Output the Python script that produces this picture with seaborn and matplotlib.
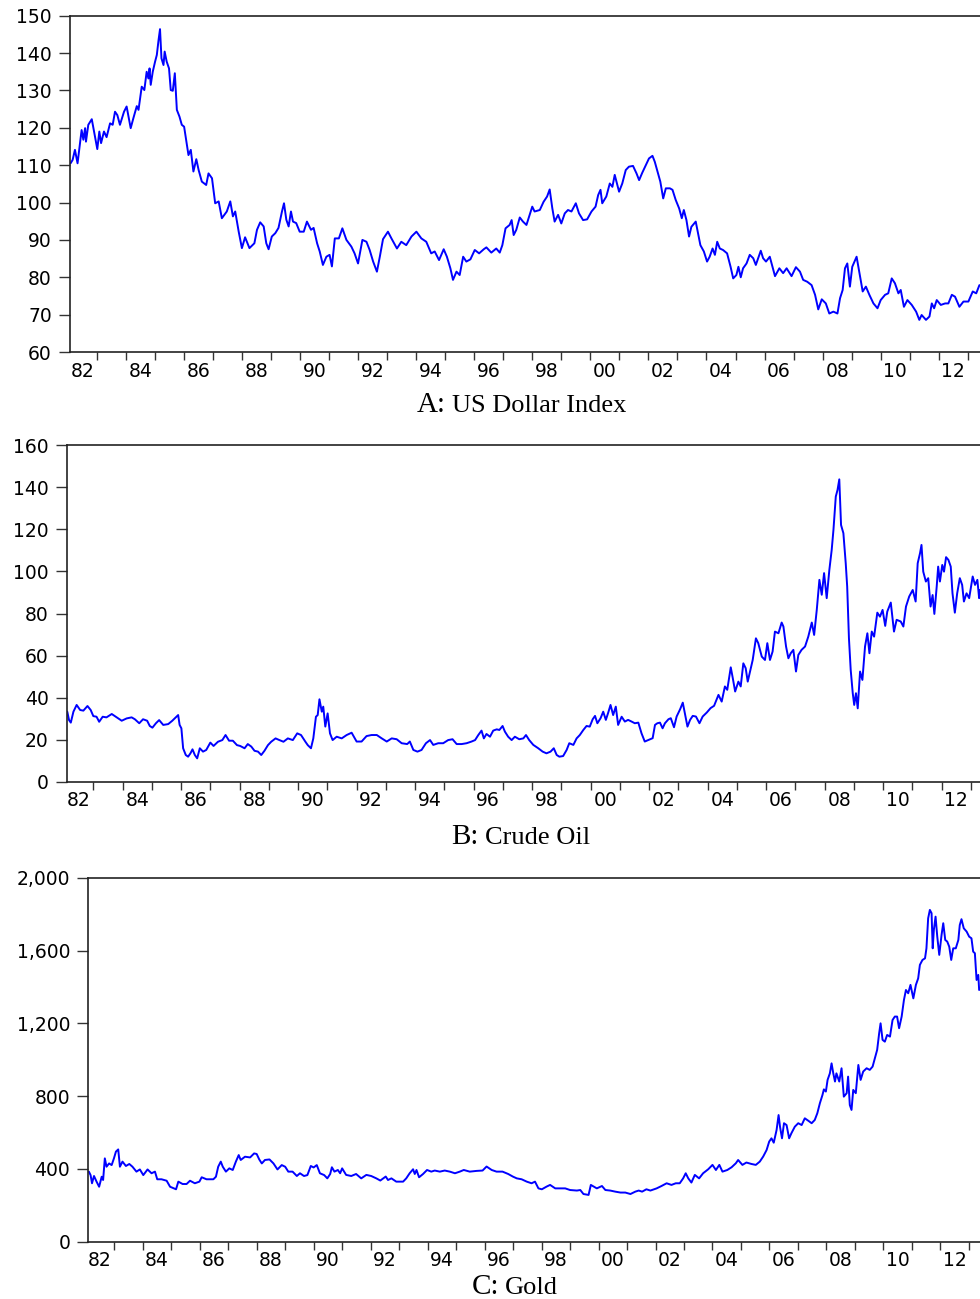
import numpy as np
import pandas as pd
import matplotlib
matplotlib.use("Agg")
import matplotlib.pyplot as plt
import seaborn as sns
from matplotlib.ticker import NullFormatter, StrMethodFormatter

# --- values (decimal year, level) ---
usd_year = [1982.10, 1982.17, 1982.25, 1982.34, 1982.48, 1982.54, 1982.60, 1982.63, 1982.71, 1982.83,
            1982.94, 1983.02, 1983.09, 1983.15, 1983.25, 1983.34, 1983.46, 1983.55, 1983.63, 1983.71,
            1983.80, 1983.94, 1984.03, 1984.17, 1984.26, 1984.38, 1984.44, 1984.55, 1984.64, 1984.72,
            1984.78, 1984.82, 1984.86, 1984.93, 1985.01, 1985.07, 1985.13, 1985.18, 1985.23, 1985.30,
            1985.34, 1985.41, 1985.49, 1985.55, 1985.62, 1985.69, 1985.76, 1985.85, 1985.93, 1986.01,
            1986.08, 1986.16, 1986.24, 1986.33, 1986.43, 1986.51, 1986.62, 1986.77, 1986.85, 1986.97,
            1987.08, 1987.20, 1987.31, 1987.48, 1987.60, 1987.69, 1987.77, 1987.89, 1988.00, 1988.11,
            1988.26, 1988.43, 1988.52, 1988.63, 1988.75, 1988.84, 1988.92, 1989.03, 1989.15, 1989.26,
            1989.38, 1989.45, 1989.53, 1989.61, 1989.69, 1989.76, 1989.87, 1989.99, 1990.13, 1990.24,
            1990.38, 1990.47, 1990.59, 1990.68, 1990.79, 1990.91, 1991.02, 1991.10, 1991.20, 1991.34,
            1991.46, 1991.60, 1991.77, 1991.88, 1992.00, 1992.15, 1992.29, 1992.40, 1992.52, 1992.65,
            1992.75, 1992.86, 1993.03, 1993.15, 1993.34, 1993.49, 1993.66, 1993.84, 1994.01, 1994.18,
            1994.35, 1994.52, 1994.64, 1994.79, 1994.95, 1995.06, 1995.18, 1995.27, 1995.39, 1995.50,
            1995.62, 1995.73, 1995.87, 1996.02, 1996.17, 1996.33, 1996.42, 1996.59, 1996.76, 1996.88,
            1996.97, 1997.08, 1997.22, 1997.29, 1997.36, 1997.45, 1997.57, 1997.68, 1997.80, 1997.91,
            1998.00, 1998.08, 1998.26, 1998.39, 1998.51, 1998.60, 1998.69, 1998.77, 1998.89, 1999.00,
            1999.12, 1999.23, 1999.35, 1999.50, 1999.61, 1999.75, 1999.89, 2000.04, 2000.18, 2000.27,
            2000.35, 2000.41, 2000.55, 2000.67, 2000.76, 2000.84, 2000.90, 2000.99, 2001.10, 2001.22,
            2001.33, 2001.47, 2001.59, 2001.68, 2001.79, 2001.91, 2002.02, 2002.14, 2002.22, 2002.33,
            2002.41, 2002.51, 2002.60, 2002.74, 2002.83, 2002.94, 2003.06, 2003.15, 2003.22, 2003.31,
            2003.40, 2003.48, 2003.63, 2003.71, 2003.79, 2003.91, 2004.02, 2004.11, 2004.21, 2004.29,
            2004.37, 2004.46, 2004.57, 2004.71, 2004.83, 2004.92, 2005.03, 2005.10, 2005.18, 2005.26,
            2005.38, 2005.49, 2005.61, 2005.70, 2005.78, 2005.87, 2005.95, 2006.05, 2006.18, 2006.36,
            2006.51, 2006.64, 2006.76, 2006.93, 2007.08, 2007.22, 2007.33, 2007.47, 2007.62, 2007.74,
            2007.85, 2007.97, 2008.11, 2008.23, 2008.37, 2008.51, 2008.60, 2008.69, 2008.77, 2008.85,
            2008.94, 2009.02, 2009.17, 2009.26, 2009.38, 2009.49, 2009.61, 2009.75, 2009.89, 2010.00,
            2010.15, 2010.26, 2010.38, 2010.49, 2010.61, 2010.69, 2010.80, 2010.92, 2011.07, 2011.22,
            2011.33, 2011.41, 2011.56, 2011.68, 2011.76, 2011.84, 2011.93, 2012.07, 2012.22, 2012.33,
            2012.45, 2012.56, 2012.71, 2012.85, 2013.02, 2013.17, 2013.29, 2013.40]
usd_value = [110.5, 111.4, 114.1, 110.5, 119.4, 116.8, 119.9, 116.3, 120.8, 122.3,
             117.6, 114.3, 119.0, 115.9, 119.0, 117.5, 121.2, 120.8, 124.3, 123.4,
             120.8, 124.3, 125.7, 119.9, 122.5, 125.8, 124.8, 131.0, 130.1, 135.0,
             133.2, 135.9, 131.5, 135.0, 137.7, 139.5, 143.5, 146.4, 138.6, 136.8,
             140.4, 137.7, 135.9, 130.1, 129.9, 134.6, 124.8, 123.0, 120.8, 120.3,
             116.8, 112.7, 114.1, 108.3, 111.6, 108.7, 105.6, 104.7, 107.8, 106.5,
             99.8, 100.3, 95.8, 97.6, 100.3, 96.3, 97.6, 92.2, 87.8, 90.7,
             87.8, 89.1, 92.7, 94.7, 93.6, 89.1, 87.5, 90.9, 91.8, 93.2,
             97.6, 99.8, 95.4, 93.6, 97.6, 94.9, 94.5, 92.2, 92.2, 94.9,
             92.7, 93.2, 89.1, 86.9, 83.3, 85.5, 86.0, 82.9, 90.4, 90.4,
             93.1, 90.0, 88.2, 86.4, 83.7, 90.0, 89.5, 87.3, 84.2, 81.5,
             85.5, 90.2, 92.2, 90.4, 87.7, 89.5, 88.6, 90.9, 92.2, 90.4,
             89.5, 86.4, 86.9, 84.6, 87.5, 85.5, 82.4, 79.3, 81.5, 80.6,
             85.5, 84.2, 84.8, 87.3, 86.4, 87.5, 88.0, 86.6, 87.7, 86.6,
             88.6, 93.1, 94.0, 95.3, 91.3, 92.7, 96.0, 94.9, 94.0, 96.7,
             98.9, 97.6, 98.0, 100.2, 101.6, 103.5, 98.5, 94.9, 96.7, 94.4,
             97.1, 98.0, 97.6, 99.8, 97.1, 95.3, 95.5, 97.6, 98.9, 102.0,
             103.4, 99.8, 101.6, 105.1, 104.2, 107.4, 105.6, 102.9, 105.1, 108.7,
             109.6, 109.8, 107.8, 106.0, 108.0, 110.0, 111.8, 112.5, 110.9, 107.8,
             105.6, 101.1, 103.8, 103.8, 103.4, 100.7, 98.4, 95.8, 98.0, 95.3,
             90.9, 93.5, 94.9, 91.8, 88.6, 86.9, 84.2, 85.5, 87.7, 86.0,
             89.5, 87.7, 87.3, 86.4, 82.8, 79.7, 80.6, 82.8, 80.0, 82.4,
             83.7, 86.0, 85.1, 83.3, 85.1, 87.1, 85.1, 84.2, 85.5, 80.3,
             82.4, 81.1, 82.4, 80.3, 82.7, 81.5, 79.3, 78.8, 77.9, 75.3,
             71.4, 74.1, 73.0, 70.3, 70.8, 70.3, 74.4, 76.6, 82.4, 83.7,
             77.5, 82.8, 85.5, 81.5, 76.2, 77.5, 75.3, 73.0, 71.7, 73.9,
             75.3, 75.7, 79.7, 78.4, 75.7, 76.6, 72.1, 73.9, 72.6, 70.8,
             68.6, 69.9, 68.6, 69.5, 73.0, 71.7, 73.9, 72.6, 73.0, 73.0,
             75.3, 74.8, 72.1, 73.5, 73.5, 76.2, 75.7, 77.9]

oil_year = [1982.11, 1982.17, 1982.23, 1982.32, 1982.43, 1982.55, 1982.66, 1982.80, 1982.91, 1983.00,
            1983.11, 1983.20, 1983.32, 1983.45, 1983.63, 1983.80, 1983.97, 1984.14, 1984.31, 1984.42,
            1984.57, 1984.70, 1984.84, 1984.93, 1985.02, 1985.14, 1985.25, 1985.39, 1985.56, 1985.70,
            1985.84, 1985.90, 1985.95, 1986.01, 1986.07, 1986.16, 1986.24, 1986.32, 1986.39, 1986.47,
            1986.55, 1986.64, 1986.75, 1986.86, 1987.00, 1987.11, 1987.26, 1987.41, 1987.52, 1987.64,
            1987.77, 1987.91, 1988.02, 1988.17, 1988.28, 1988.40, 1988.51, 1988.63, 1988.74, 1988.85,
            1988.97, 1989.08, 1989.23, 1989.36, 1989.50, 1989.65, 1989.82, 1989.97, 1990.10, 1990.25,
            1990.33, 1990.44, 1990.52, 1990.61, 1990.67, 1990.73, 1990.81, 1990.86, 1990.93, 1991.01,
            1991.09, 1991.18, 1991.32, 1991.49, 1991.66, 1991.83, 1992.00, 1992.17, 1992.34, 1992.51,
            1992.69, 1992.86, 1993.03, 1993.20, 1993.37, 1993.54, 1993.73, 1993.82, 1993.94, 1994.08,
            1994.22, 1994.37, 1994.51, 1994.62, 1994.79, 1994.96, 1995.13, 1995.28, 1995.42, 1995.59,
            1995.76, 1995.93, 1996.05, 1996.16, 1996.27, 1996.35, 1996.44, 1996.56, 1996.67, 1996.79,
            1996.88, 1996.99, 1997.07, 1997.18, 1997.30, 1997.41, 1997.56, 1997.70, 1997.79, 1997.90,
            1998.04, 1998.21, 1998.36, 1998.49, 1998.63, 1998.74, 1998.84, 1998.93, 1999.06, 1999.18,
            1999.27, 1999.41, 1999.52, 1999.63, 1999.75, 1999.86, 1999.97, 2000.07, 2000.15, 2000.23,
            2000.34, 2000.43, 2000.52, 2000.60, 2000.68, 2000.77, 2000.86, 2000.94, 2001.06, 2001.17,
            2001.28, 2001.40, 2001.51, 2001.63, 2001.74, 2001.85, 2001.97, 2002.12, 2002.20, 2002.28,
            2002.37, 2002.46, 2002.54, 2002.66, 2002.74, 2002.85, 2002.94, 2003.06, 2003.15, 2003.23,
            2003.31, 2003.40, 2003.49, 2003.60, 2003.72, 2003.83, 2003.97, 2004.10, 2004.22, 2004.37,
            2004.48, 2004.59, 2004.67, 2004.79, 2004.86, 2004.94, 2005.05, 2005.13, 2005.22, 2005.30,
            2005.37, 2005.45, 2005.54, 2005.65, 2005.73, 2005.85, 2005.96, 2006.04, 2006.13, 2006.22,
            2006.30, 2006.42, 2006.53, 2006.59, 2006.68, 2006.76, 2006.84, 2006.93, 2007.02, 2007.10,
            2007.21, 2007.33, 2007.44, 2007.56, 2007.64, 2007.73, 2007.82, 2007.90, 2007.98, 2008.07,
            2008.16, 2008.24, 2008.30, 2008.38, 2008.44, 2008.50, 2008.56, 2008.64, 2008.72, 2008.77,
            2008.83, 2008.89, 2008.96, 2009.01, 2009.07, 2009.13, 2009.21, 2009.29, 2009.38, 2009.46,
            2009.53, 2009.61, 2009.69, 2009.80, 2009.89, 2009.98, 2010.07, 2010.14, 2010.26, 2010.37,
            2010.46, 2010.60, 2010.69, 2010.78, 2010.89, 2011.01, 2011.11, 2011.18, 2011.26, 2011.31,
            2011.37, 2011.46, 2011.54, 2011.62, 2011.69, 2011.75, 2011.83, 2011.88, 2011.94, 2012.02,
            2012.08, 2012.15, 2012.23, 2012.31, 2012.37, 2012.45, 2012.53, 2012.62, 2012.70, 2012.76,
            2012.85, 2012.94, 2013.06, 2013.14, 2013.22, 2013.28, 2013.31]
oil_value = [33.3, 29.3, 28.1, 33.3, 36.5, 34.1, 33.8, 36.0, 34.1, 31.2,
             30.9, 28.5, 30.9, 30.6, 32.2, 30.6, 29.0, 30.1, 30.6, 29.7,
             27.8, 29.7, 29.0, 26.5, 25.7, 27.8, 29.3, 27.0, 27.4, 29.0,
             30.9, 31.7, 27.0, 25.4, 15.9, 12.7, 11.9, 13.5, 15.4, 12.7,
             11.1, 15.9, 14.3, 15.1, 18.6, 17.0, 19.0, 19.8, 22.2, 19.5,
             19.5, 17.4, 17.0, 15.9, 17.9, 16.7, 14.7, 14.3, 12.7, 14.7,
             17.4, 19.0, 20.6, 19.8, 19.0, 20.6, 19.8, 23.0, 22.2, 19.0,
             17.4, 15.9, 20.6, 30.9, 31.7, 39.2, 33.3, 35.7, 26.2, 32.5,
             23.0, 19.8, 21.4, 20.6, 22.2, 23.3, 19.1, 19.1, 21.7, 22.2,
             22.2, 20.6, 19.1, 20.6, 20.2, 18.3, 17.9, 19.1, 15.1, 14.3,
             15.1, 18.3, 19.8, 17.5, 18.3, 18.3, 19.8, 20.2, 17.9, 17.9,
             18.3, 19.1, 19.8, 22.2, 24.3, 20.6, 22.7, 21.4, 24.3, 24.9,
             24.6, 26.5, 23.8, 21.4, 19.8, 21.4, 20.2, 20.6, 22.2, 19.8,
             17.5, 15.9, 14.3, 13.5, 14.3, 15.9, 12.7, 11.9, 12.2, 15.1,
             18.3, 17.5, 20.6, 22.2, 24.6, 26.5, 26.2, 29.7, 31.3, 27.8,
             30.2, 33.3, 29.4, 32.8, 36.5, 31.7, 35.7, 27.0, 30.9, 28.6,
             29.4, 28.6, 27.8, 28.1, 23.0, 19.1, 19.8, 20.7, 27.0, 27.8,
             28.1, 25.4, 27.8, 29.7, 30.2, 25.9, 31.0, 34.5, 37.6, 31.8,
             26.2, 29.4, 31.3, 31.0, 27.8, 31.0, 32.9, 35.0, 36.1, 41.3,
             38.1, 45.3, 43.7, 54.4, 49.2, 42.9, 47.6, 45.3, 56.3, 54.0,
             47.6, 52.4, 57.9, 68.2, 65.9, 59.5, 57.9, 65.9, 57.9, 61.9,
             71.4, 70.6, 75.7, 73.8, 64.3, 58.7, 61.1, 62.7, 52.4, 60.3,
             62.7, 64.3, 69.0, 75.7, 69.8, 81.7, 96.0, 88.9, 99.2, 87.3,
             100.7, 110.2, 119.7, 135.6, 138.8, 143.8, 122.1, 118.2, 103.9, 92.8,
             68.2, 53.2, 42.1, 36.5, 42.1, 34.9, 52.4, 48.4, 64.3, 70.6,
             61.1, 71.4, 69.0, 80.4, 78.5, 81.7, 74.1, 80.9, 85.2, 71.4,
             77.0, 76.2, 73.8, 83.3, 88.1, 91.2, 85.7, 103.9, 108.7, 112.6,
             99.9, 95.2, 96.8, 83.3, 88.8, 79.8, 92.8, 102.3, 95.2, 103.1,
             99.9, 106.8, 105.5, 102.3, 89.6, 80.4, 89.6, 96.8, 93.6, 85.7,
             89.6, 87.3, 97.6, 93.6, 96.0, 87.3, 91.2]

gold_year = [1982.11, 1982.17, 1982.22, 1982.29, 1982.38, 1982.47, 1982.56, 1982.61, 1982.67, 1982.73,
             1982.82, 1982.91, 1982.99, 1983.06, 1983.14, 1983.20, 1983.29, 1983.41, 1983.53, 1983.64,
             1983.78, 1983.90, 1984.02, 1984.17, 1984.31, 1984.43, 1984.51, 1984.66, 1984.84, 1984.96,
             1985.17, 1985.25, 1985.40, 1985.54, 1985.66, 1985.83, 1985.99, 1986.07, 1986.24, 1986.48,
             1986.57, 1986.65, 1986.74, 1986.81, 1986.92, 1987.04, 1987.16, 1987.27, 1987.37, 1987.44,
             1987.59, 1987.77, 1987.91, 1988.00, 1988.09, 1988.18, 1988.29, 1988.45, 1988.59, 1988.73,
             1988.88, 1989.00, 1989.11, 1989.26, 1989.41, 1989.52, 1989.66, 1989.78, 1989.90, 1990.00,
             1990.11, 1990.22, 1990.37, 1990.48, 1990.58, 1990.64, 1990.73, 1990.85, 1990.93, 1991.00,
             1991.14, 1991.32, 1991.49, 1991.67, 1991.85, 1992.02, 1992.20, 1992.34, 1992.53, 1992.61,
             1992.73, 1992.90, 1993.14, 1993.25, 1993.37, 1993.49, 1993.55, 1993.61, 1993.70, 1993.84,
             1993.98, 1994.13, 1994.25, 1994.43, 1994.60, 1994.78, 1994.96, 1995.13, 1995.27, 1995.48,
             1995.72, 1995.93, 1996.07, 1996.25, 1996.42, 1996.63, 1996.83, 1996.99, 1997.13, 1997.30,
             1997.48, 1997.65, 1997.77, 1997.89, 1998.01, 1998.18, 1998.30, 1998.48, 1998.65, 1998.83,
             1999.00, 1999.24, 1999.36, 1999.47, 1999.65, 1999.73, 1999.83, 1999.94, 2000.12, 2000.24,
             2000.41, 2000.59, 2000.77, 2000.94, 2001.12, 2001.29, 2001.41, 2001.53, 2001.68, 2001.82,
             2002.04, 2002.21, 2002.39, 2002.56, 2002.71, 2002.85, 2002.97, 2003.06, 2003.15, 2003.26,
             2003.38, 2003.53, 2003.67, 2003.85, 2004.00, 2004.12, 2004.24, 2004.35, 2004.52, 2004.67,
             2004.82, 2004.90, 2005.05, 2005.19, 2005.37, 2005.52, 2005.66, 2005.78, 2005.90, 2005.99,
             2006.07, 2006.15, 2006.25, 2006.32, 2006.37, 2006.44, 2006.51, 2006.60, 2006.69, 2006.77,
             2006.89, 2007.01, 2007.13, 2007.24, 2007.36, 2007.48, 2007.59, 2007.68, 2007.77, 2007.86,
             2007.91, 2007.98, 2008.04, 2008.12, 2008.18, 2008.24, 2008.30, 2008.35, 2008.45, 2008.53,
             2008.61, 2008.71, 2008.76, 2008.82, 2008.88, 2008.94, 2009.03, 2009.12, 2009.20, 2009.29,
             2009.41, 2009.52, 2009.62, 2009.70, 2009.78, 2009.85, 2009.90, 2009.97, 2010.05, 2010.13,
             2010.23, 2010.32, 2010.40, 2010.48, 2010.55, 2010.64, 2010.72, 2010.79, 2010.87, 2010.95,
             2011.05, 2011.14, 2011.22, 2011.28, 2011.37, 2011.46, 2011.51, 2011.57, 2011.63, 2011.69,
             2011.73, 2011.77, 2011.83, 2011.89, 2011.96, 2012.04, 2012.10, 2012.17, 2012.24, 2012.31,
             2012.38, 2012.45, 2012.54, 2012.63, 2012.68, 2012.74, 2012.82, 2012.92, 2013.01, 2013.09,
             2013.15, 2013.21, 2013.27, 2013.33, 2013.36]
gold_value = [385, 366, 321, 361, 330, 302, 357, 339, 458, 412,
              430, 421, 458, 495, 507, 412, 440, 416, 427, 412,
              385, 397, 366, 397, 376, 385, 343, 343, 335, 302,
              288, 330, 317, 317, 335, 321, 330, 354, 343, 343,
              357, 412, 440, 412, 385, 403, 394, 440, 476, 449,
              467, 463, 485, 482, 452, 430, 449, 452, 430, 397,
              421, 412, 385, 385, 361, 376, 361, 366, 416, 408,
              421, 376, 366, 348, 372, 409, 385, 394, 376, 403,
              367, 361, 372, 348, 367, 361, 348, 336, 358, 339,
              348, 330, 330, 348, 376, 398, 372, 394, 354, 372,
              394, 385, 391, 385, 391, 385, 376, 385, 394, 385,
              389, 391, 413, 394, 385, 385, 372, 358, 348, 343,
              330, 321, 330, 293, 288, 303, 312, 293, 293, 293,
              284, 281, 284, 262, 257, 312, 303, 293, 306, 284,
              281, 275, 270, 270, 262, 275, 281, 275, 288, 281,
              293, 306, 321, 312, 321, 321, 348, 376, 348, 325,
              367, 348, 376, 398, 422, 394, 422, 385, 394, 409,
              431, 449, 422, 435, 427, 422, 440, 468, 504, 550,
              568, 544, 614, 696, 632, 568, 651, 641, 568, 596,
              632, 651, 641, 678, 665, 651, 669, 706, 761, 806,
              837, 825, 889, 925, 980, 925, 880, 925, 880, 953,
              797, 816, 907, 751, 724, 834, 816, 971, 889, 935,
              953, 944, 962, 1008, 1054, 1145, 1200, 1109, 1099, 1136,
              1127, 1218, 1237, 1237, 1173, 1237, 1328, 1383, 1365, 1411,
              1337, 1411, 1447, 1521, 1548, 1557, 1612, 1777, 1823, 1805,
              1612, 1713, 1786, 1676, 1576, 1685, 1750, 1658, 1649, 1621,
              1548, 1612, 1612, 1658, 1740, 1772, 1722, 1704, 1676, 1667,
              1594, 1585, 1438, 1466, 1383]

label_years = [1982, 1984, 1986, 1988, 1990, 1992, 1994, 1996, 1998, 2000, 2002, 2004, 2006, 2008, 2010, 2012]
year_labels = ['82', '84', '86', '88', '90', '92', '94', '96', '98', '00', '02', '04', '06', '08', '10', '12']

panels = [
    # prefix, name, years, values, y ticks, axes box in px (left, top, bottom), x range, title baseline px, split px
    ('A:', 'US Dollar Index', usd_year, usd_value, np.arange(60, 151, 10), (70.0, 15.7, 352.0), (1982.08, 2013.42), 412, 446),
    ('B:', 'Crude Oil', oil_year, oil_value, np.arange(0, 161, 20), (66.7, 445.3, 781.7), (1982.09, 2013.31), 844, 479),
    ('C:', 'Gold', gold_year, gold_value, np.arange(0, 2001, 400), (88.3, 877.7, 1241.7), (1982.09, 2013.39), 1294, 499),
]

sns.set_style('ticks')
plt.rcParams['font.family'] = ['DejaVu Sans']

W, H = 980, 1299
fig = plt.figure(figsize=(W / 100, H / 100), dpi=100)

for prefix, name, years, values, yticks, box, xr, title_y, split_x in panels:
    left, top, bottom = box
    ax = fig.add_axes([left / W, 1 - bottom / H, 1 - left / W, (bottom - top) / H])
    df = pd.DataFrame({'year': years, 'value': values})
    sns.lineplot(data=df, x='year', y='value', ax=ax, color='#0000FF',
                 linewidth=1.4, estimator=None, sort=False)

    ax.set_xlim(*xr)
    ax.set_ylim(yticks[0], yticks[-1])
    ax.set_xlabel('')
    ax.set_ylabel('')

    # year boundaries as unlabeled ticks, labels centred on even years
    ax.set_xticks(np.arange(1983, 2014))
    ax.xaxis.set_major_formatter(NullFormatter())
    ax.set_xticks([y + 0.5 for y in label_years], minor=True)
    ax.set_xticklabels(year_labels, minor=True)
    ax.tick_params(axis='x', which='major', length=5.5, width=1.0, color='#333333')
    ax.tick_params(axis='x', which='minor', length=0, pad=7, labelsize=13.5, labelcolor='black')

    ax.set_yticks(yticks)
    if yticks[-1] >= 1000:
        ax.yaxis.set_major_formatter(StrMethodFormatter('{x:,.0f}'))
    ax.tick_params(axis='y', length=8, width=1.0, color='#333333', pad=5, labelsize=13.5,
                   labelcolor='black')

    for side in ['left', 'top', 'bottom']:
        ax.spines[side].set_visible(True)
        ax.spines[side].set_linewidth(1.2)
        ax.spines[side].set_color('#222222')
    ax.spines['right'].set_visible(False)

    fig.text(split_x / W, 1 - title_y / H, prefix, ha='right', va='baseline',
             family='Liberation Serif', fontsize=21, color='black')
    fig.text((split_x + 6) / W, 1 - title_y / H, name, ha='left', va='baseline',
             family='Liberation Serif', fontsize=19, color='black')

fig.savefig('out.png', dpi=100)
